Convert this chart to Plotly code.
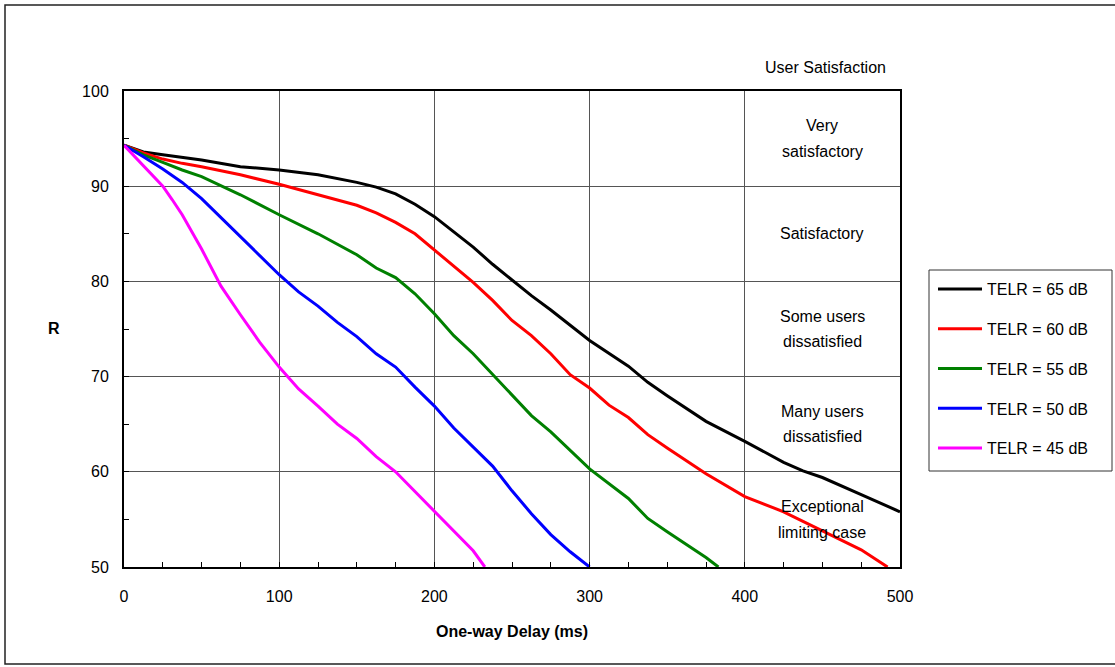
import plotly.graph_objects as go

# One-way delay (ms) / R-value samples for each talker echo loudness rating
delay_65 = [0, 12.5, 25, 37.5, 50, 75, 100, 125, 150, 162.5, 175, 187.5, 200, 212.5, 225,
            237.5, 250, 262.5, 275, 300, 325, 337.5, 350, 375, 400, 425, 437.5, 450, 475, 500]
r_65 = [94.3, 93.6, 93.3, 93.0, 92.75, 92.05, 91.7, 91.2, 90.4, 89.9, 89.2, 88.1, 86.8, 85.2, 83.6,
        81.8, 80.1, 78.5, 77.0, 73.8, 71.1, 69.4, 68.0, 65.3, 63.2, 61.0, 60.1, 59.4, 57.6, 55.8]

delay_60 = [0, 12.5, 25, 37.5, 50, 75, 100, 125, 150, 162.5, 175, 187.5, 200, 212.5, 225, 237.5,
            250, 262.5, 275, 287.5, 300, 312.5, 325, 337.5, 350, 375, 400, 425, 450, 475, 492]
r_60 = [94.3, 93.5, 92.85, 92.4, 92.05, 91.2, 90.2, 89.1, 88.0, 87.2, 86.2, 85.0, 83.3, 81.5, 79.9, 78.0,
        75.9, 74.3, 72.4, 70.2, 68.8, 67.0, 65.7, 63.9, 62.5, 59.8, 57.4, 55.8, 53.8, 51.8, 50.0]

delay_55 = [0, 12.5, 25, 37.5, 50, 75, 100, 125, 150, 162.5, 175, 187.5, 200, 212.5, 225,
            237.5, 250, 262.5, 275, 300, 325, 337.5, 350, 375, 383]
r_55 = [94.3, 93.3, 92.5, 91.7, 91.0, 89.1, 87.0, 85.0, 82.8, 81.4, 80.4, 78.7, 76.6, 74.3, 72.4,
        70.2, 68.1, 65.9, 64.2, 60.3, 57.2, 55.1, 53.7, 51.0, 50.0]

delay_50 = [0, 12.5, 25, 37.5, 50, 62.5, 75, 87.5, 100, 112.5, 125, 137.5, 150, 162.5, 175,
            187.5, 200, 212.5, 225, 237.5, 250, 262.5, 275, 287.5, 300]
r_50 = [94.3, 93.1, 91.8, 90.4, 88.7, 86.7, 84.7, 82.7, 80.7, 78.9, 77.4, 75.7, 74.2, 72.4, 71.0,
        68.9, 66.9, 64.6, 62.6, 60.6, 58.0, 55.6, 53.4, 51.6, 50.0]

delay_45 = [0, 12.5, 25, 31, 37.5, 50, 62.5, 75, 87.5, 100, 112.5, 125, 137.5, 150, 162.5,
            175, 187.5, 200, 212.5, 225, 232.5]
r_45 = [94.3, 92.2, 90.0, 88.6, 87.0, 83.4, 79.5, 76.5, 73.6, 71.0, 68.7, 66.9, 65.0, 63.5, 61.6,
        60.0, 57.9, 55.8, 53.8, 51.7, 50.0]

series_names = ["TELR = 65 dB", "TELR = 60 dB", "TELR = 55 dB", "TELR = 50 dB", "TELR = 45 dB"]
series_colors = ["#000000", "#FF0000", "#008000", "#0000FF", "#FF00FF"]
series_x = [delay_65, delay_60, delay_55, delay_50, delay_45]
series_y = [r_65, r_60, r_55, r_50, r_45]

# Satisfaction bands: label lines and band centre (R)
band_centres = [95, 85, 75, 65, 55]
band_labels = [("Very", "satisfactory"), ("Satisfactory",), ("Some users", "dissatisfied"),
               ("Many users", "dissatisfied"), ("Exceptional", "limiting case")]

x_ticks = [0, 100, 200, 300, 400, 500]
y_ticks = [50, 60, 70, 80, 90, 100]

W, H = 1115, 667
L, T, PW, PH = 124, 91, 776, 476
R, B = W - L - PW, H - T - PH
FONT = "Arial, Liberation Sans, sans-serif"


def px_x(p):
    return (p - L) / PW


def px_y(p):
    return 1 - (p - T) / PH


fig = go.Figure()
for name, color, xs, ys in zip(series_names, series_colors, series_x, series_y):
    fig.add_trace(go.Scatter(x=xs, y=ys, mode="lines", name=name, legendgroup=name,
                             line=dict(color=color, width=3)))

annotations = []
for centre, lines in zip(band_centres, band_labels):
    n = len(lines)
    for i, txt in enumerate(lines):
        shift = (i - (n - 1) / 2) * -25.5
        annotations.append(dict(x=450, y=centre, xref="x", yref="y", text=txt, showarrow=False,
                                yshift=shift, font=dict(family=FONT, size=16, color="#000")))
annotations.append(dict(x=px_x(825), y=px_y(68), xref="paper", yref="paper", text="User Satisfaction",
                        showarrow=False, xanchor="center", yanchor="middle",
                        font=dict(family=FONT, size=16, color="#000")))
# upright y-axis title
annotations.append(dict(x=px_x(54), y=px_y(328), xref="paper", yref="paper", text="<b>R</b>",
                        showarrow=False, xanchor="center", yanchor="middle",
                        font=dict(family=FONT, size=16, color="#000")))

shapes = [
    # chart frame
    dict(type="rect", xref="paper", yref="paper", x0=px_x(5), x1=px_x(1125), y0=px_y(664), y1=px_y(5),
         line=dict(color="#222", width=1.5), layer="below"),
    # legend frame
    dict(type="rect", xref="paper", yref="paper", x0=px_x(929), x1=px_x(1112), y0=px_y(471), y1=px_y(270),
         line=dict(color="#333", width=1)),
]

axis_common = dict(showline=True, linecolor="#000", linewidth=2, mirror=True,
                   showgrid=True, gridcolor="#555", gridwidth=1, zeroline=False,
                   ticks="inside", ticklen=5, tickwidth=1, tickcolor="#000",
                   tickfont=dict(family=FONT, size=16, color="#000"))

fig.update_layout(
    width=W, height=H,
    margin=dict(l=L, r=R, t=T, b=B),
    paper_bgcolor="white", plot_bgcolor="white",
    showlegend=True,
    legend=dict(x=px_x(933), y=px_y(272), xanchor="left", yanchor="top",
                bgcolor="rgba(0,0,0,0)", borderwidth=0,
                font=dict(family=FONT, size=16, color="#000"),
                traceorder="grouped", tracegroupgap=16, itemwidth=44),
    xaxis=dict(range=[0, 500], tickvals=x_ticks, ticklabelstandoff=14,
               minor=dict(dtick=25, ticks="inside", ticklen=5, tickcolor="#000", showgrid=False),
               title=dict(text="<b>One-way Delay (ms)</b>", standoff=22,
                          font=dict(family=FONT, size=16, color="#000")),
               **axis_common),
    yaxis=dict(range=[50, 100], tickvals=y_ticks, ticklabelstandoff=10,
               minor=dict(dtick=5, ticks="inside", ticklen=5, tickcolor="#000", showgrid=False),
               **axis_common),
    annotations=annotations,
    shapes=shapes,
)

fig.write_html("out.html")
